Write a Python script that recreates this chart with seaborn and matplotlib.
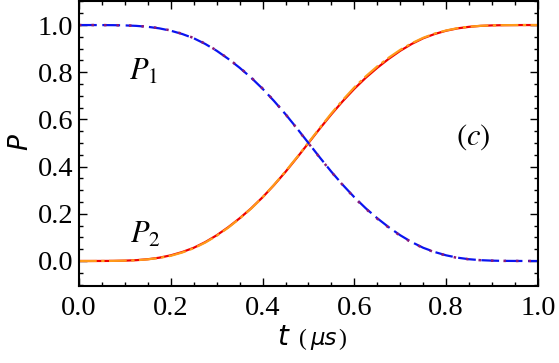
import numpy as np
import pandas as pd
import matplotlib
matplotlib.use("Agg")
import matplotlib.pyplot as plt
import seaborn as sns
from matplotlib.ticker import MultipleLocator, FormatStrFormatter

# time grid (microseconds) and populations
t = [0.0, 0.025, 0.05, 0.075, 0.1, 0.125, 0.15, 0.175, 0.2, 0.225,
     0.25, 0.275, 0.3, 0.325, 0.35, 0.375, 0.4, 0.425, 0.45, 0.475,
     0.5, 0.525, 0.55, 0.575, 0.6, 0.625, 0.65, 0.675, 0.7, 0.725,
     0.75, 0.775, 0.8, 0.825, 0.85, 0.875, 0.9, 0.925, 0.95, 0.975, 1.0]
p2_exact = [0.0, 0.0, 0.0002, 0.0005, 0.0015, 0.0035, 0.0075, 0.014, 0.024, 0.038,
            0.056, 0.08, 0.109, 0.143, 0.181, 0.223, 0.27, 0.322, 0.378, 0.438,
            0.5, 0.562, 0.622, 0.678, 0.73, 0.777, 0.819, 0.857, 0.891, 0.92,
            0.944, 0.962, 0.976, 0.986, 0.9925, 0.9965, 0.9985, 0.9995, 0.9998, 1.0, 1.0]
p2_approx = [0.0, 0.0, 0.0002, 0.0005, 0.0014, 0.0032, 0.007, 0.013, 0.022, 0.036,
             0.054, 0.078, 0.107, 0.141, 0.18, 0.222, 0.27, 0.323, 0.38, 0.44,
             0.502, 0.565, 0.626, 0.683, 0.736, 0.783, 0.825, 0.862, 0.895, 0.923,
             0.946, 0.964, 0.977, 0.987, 0.993, 0.9967, 0.9986, 0.9995, 0.9998, 1.0, 1.0]
p1_exact = [1.0, 1.0, 0.9998, 0.9995, 0.9985, 0.9965, 0.9925, 0.986, 0.976, 0.962,
            0.944, 0.92, 0.891, 0.857, 0.819, 0.777, 0.73, 0.678, 0.622, 0.562,
            0.5, 0.438, 0.378, 0.322, 0.27, 0.223, 0.181, 0.143, 0.109, 0.08,
            0.056, 0.038, 0.024, 0.014, 0.0075, 0.0035, 0.0015, 0.0005, 0.0002, 0.0, 0.0]
p1_approx = [1.0, 1.0, 0.9998, 0.9995, 0.9986, 0.9967, 0.993, 0.987, 0.977, 0.963,
             0.945, 0.921, 0.892, 0.858, 0.82, 0.778, 0.731, 0.679, 0.622, 0.561,
             0.499, 0.437, 0.377, 0.321, 0.268, 0.221, 0.179, 0.141, 0.107, 0.078,
             0.055, 0.037, 0.023, 0.013, 0.007, 0.0033, 0.0014, 0.0005, 0.0002, 0.0, 0.0]

df = pd.DataFrame({"t": t, "p1e": p1_exact, "p1a": p1_approx,
                   "p2e": p2_exact, "p2a": p2_approx})

sns.set_style("ticks")
plt.rcParams["font.family"] = ["Liberation Serif", "DejaVu Serif"]
plt.rcParams["mathtext.fontset"] = "stix"
plt.rcParams["text.color"] = "black"

fig = plt.figure(figsize=(5.59, 3.63), dpi=100)
ax = fig.add_axes([0.1413, 0.2121, 0.8211, 0.7852])

sns.lineplot(data=df, x="t", y="p2e", ax=ax, color="#f00000", lw=1.6)
sns.lineplot(data=df, x="t", y="p2a", ax=ax, color="#ff9a1a", lw=1.6,
             linestyle=(0, (8, 2, 1.5, 2)))
sns.lineplot(data=df, x="t", y="p1e", ax=ax, color="#0a14f0", lw=1.6,
             linestyle=(0, (8, 2.5)))
sns.lineplot(data=df, x="t", y="p1a", ax=ax, color="#8a1a7a", lw=1.8,
             linestyle=(0, (1, 4)))

ax.set_xlim(0, 1)
ax.set_ylim(-0.106, 1.102)
ax.xaxis.set_major_locator(MultipleLocator(0.2))
ax.xaxis.set_minor_locator(MultipleLocator(0.05))
ax.yaxis.set_major_locator(MultipleLocator(0.2))
ax.yaxis.set_minor_locator(MultipleLocator(0.05))
ax.xaxis.set_major_formatter(FormatStrFormatter("%.1f"))
ax.yaxis.set_major_formatter(FormatStrFormatter("%.1f"))
ax.tick_params(which="both", direction="in", top=True, right=True,
               width=1.0, labelsize=20.5, colors="black")
ax.tick_params(axis="x", pad=7)
ax.tick_params(axis="y", pad=4)
ax.tick_params(which="major", length=6)
ax.tick_params(which="minor", length=3)
for s in ax.spines.values():
    s.set_linewidth(1.5)
    s.set_color("black")

ax.set_xlabel("")
ax.set_ylabel("")
fig.text(0.036, 0.609, "P", family="DejaVu Sans", style="italic",
         fontsize=19, rotation=90, ha="center", va="center")
fig.text(0.4955, 0.05, "t", family="DejaVu Sans", style="italic",
         fontsize=20, ha="left", va="baseline")
fig.text(0.535, 0.05, "(", fontsize=17, ha="left", va="baseline")
fig.text(0.5546, 0.05, "μs", family="DejaVu Sans", style="italic",
         fontsize=16.5, ha="left", va="baseline")
fig.text(0.605, 0.05, ")", fontsize=17, ha="left", va="baseline")

ax.text(0.14, 0.8, r"$P_1$", fontsize=22, ha="center", va="center")
ax.text(0.145, 0.11, r"$P_2$", fontsize=22, ha="center", va="center")
ax.text(0.858, 0.525, r"$(c)$", fontsize=22, ha="center", va="center")

fig.savefig("out.png", dpi=100)
